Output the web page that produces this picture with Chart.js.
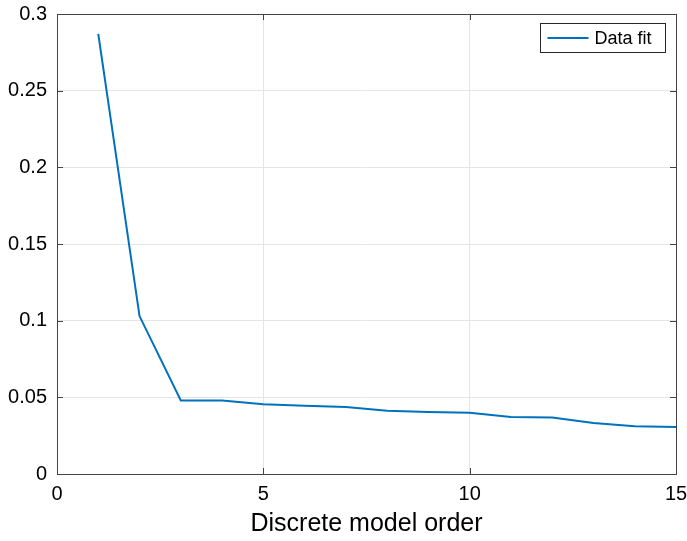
<!DOCTYPE html>
<html>
<head>
<meta charset="utf-8">
<script src="https://cdn.jsdelivr.net/npm/chart.js@4"></script>
<style>
  html, body { margin: 0; padding: 0; background: #fff; }
  #wrap { width: 687px; height: 541px; }
</style>
</head>
<body>
<div id="wrap"><canvas id="chart" width="687" height="541"></canvas></div>
<script>
const orders  = [1, 2, 3, 4, 5, 6, 7, 8, 9, 10, 11, 12, 13, 14, 15];
const dataFit = [0.287, 0.103, 0.048, 0.048, 0.0455, 0.0445, 0.0437, 0.0412, 0.0405, 0.0400, 0.0372, 0.0368, 0.0332, 0.0312, 0.0307];
const xTicks  = [0, 5, 10, 15];
const yTicks  = [0, 0.05, 0.1, 0.15, 0.2, 0.25, 0.3];

const FONT = "'Liberation Sans', Arial, Helvetica, sans-serif";
const AXIS = "#262626";

// box around the axes, inner tick marks and the legend, MATLAB style
const matlabBox = {
  id: "matlabBox",
  afterDatasetsDraw(chart) {
    const { ctx, chartArea: a, scales } = chart;
    ctx.save();
    ctx.strokeStyle = "#444";
    ctx.lineWidth = 1;
    ctx.beginPath();
    xTicks.forEach(v => {
      const x = Math.round(scales.x.getPixelForValue(v)) + 0.5;
      ctx.moveTo(x, a.bottom); ctx.lineTo(x, a.bottom - 6);
      ctx.moveTo(x, a.top);    ctx.lineTo(x, a.top + 6);
    });
    yTicks.forEach(v => {
      const y = Math.round(scales.y.getPixelForValue(v)) + 0.5;
      ctx.moveTo(a.left, y);  ctx.lineTo(a.left + 6, y);
      ctx.moveTo(a.right, y); ctx.lineTo(a.right - 6, y);
    });
    ctx.stroke();
    ctx.strokeRect(Math.round(a.left) + 0.5, Math.round(a.top) + 0.5,
                   Math.round(a.right - a.left), Math.round(a.bottom - a.top));

    // legend
    const bw = 125, bh = 29;
    const bx = Math.round(a.right) - 11 - bw + 0.5, by = Math.round(a.top) + 9 + 0.5;
    ctx.fillStyle = "#fff";
    ctx.fillRect(bx, by, bw, bh);
    ctx.strokeStyle = AXIS;
    ctx.strokeRect(bx, by, bw, bh);
    ctx.strokeStyle = chart.data.datasets[0].borderColor;
    ctx.lineWidth = 2;
    ctx.beginPath();
    ctx.moveTo(bx + 7, by + bh / 2);
    ctx.lineTo(bx + 48, by + bh / 2);
    ctx.stroke();
    ctx.fillStyle = "#000";
    ctx.font = "18px " + FONT;
    ctx.textBaseline = "middle";
    ctx.fillText(chart.data.datasets[0].label, bx + 54, by + bh / 2 + 1);
    ctx.restore();
  }
};

const noOverhang = s => { s.paddingTop = 0; s.paddingBottom = 0; s.paddingLeft = 0; s.paddingRight = 0; };

new Chart(document.getElementById("chart"), {
  type: "line",
  data: {
    datasets: [{
      label: "Data fit",
      data: orders.map((o, i) => ({ x: o, y: dataFit[i] })),
      borderColor: "#0072BD",
      borderWidth: 2,
      pointRadius: 0,
      tension: 0,
      fill: false
    }]
  },
  options: {
    responsive: false,
    animation: false,
    layout: { padding: { top: 14, right: 11, left: 0, bottom: 0 } },
    plugins: { legend: { display: false }, tooltip: { enabled: false } },
    scales: {
      x: {
        type: "linear",
        min: 0, max: 15,
        afterBuildTicks: s => { s.ticks = xTicks.map(v => ({ value: v })); },
        afterFit: s => { s.height = 67; noOverhang(s); },
        border: { display: false },
        grid: { color: "#e5e5e5", drawTicks: false },
        ticks: { color: "#000", padding: 8, font: { family: FONT, size: 20 } },
        title: {
          display: true,
          text: "Discrete model order",
          color: "#000",
          padding: { top: 0, bottom: 2 },
          font: { family: FONT, size: 25 }
        }
      },
      y: {
        min: 0, max: 0.3,
        afterBuildTicks: s => { s.ticks = yTicks.map(v => ({ value: v })); },
        afterFit: s => { s.width = 57; noOverhang(s); },
        border: { display: false },
        grid: { color: "#e5e5e5", drawTicks: false },
        ticks: {
          color: "#000", padding: 10, font: { family: FONT, size: 20 },
          callback: v => String(+v.toFixed(2))
        }
      }
    }
  },
  plugins: [matlabBox]
});
</script>
</body>
</html>
